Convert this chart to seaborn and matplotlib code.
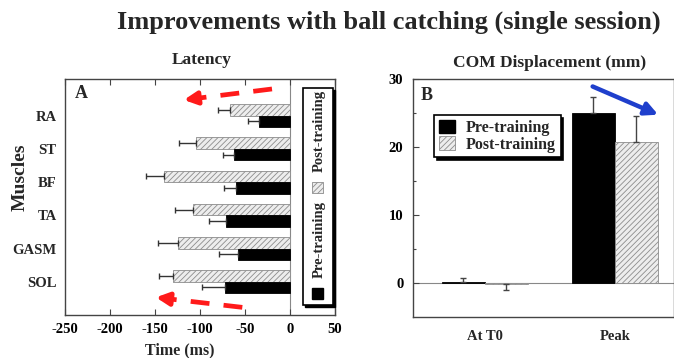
import numpy as np
import pandas as pd
import matplotlib
matplotlib.use("Agg")
import matplotlib.pyplot as plt
from matplotlib.patches import Rectangle, Patch
import seaborn as sns

# ---------------- data ----------------
muscles = ["RA", "ST", "BF", "TA", "GASM", "SOL"]
latency_post = [-67, -105, -140, -108, -124, -130]
latency_post_err = [13, 18, 20, 20, 23, 16]
latency_pre = [-35, -62, -60, -71, -58, -72]
latency_pre_err = [12, 12, 13, 19, 21, 26]

phases = ["At T0", "Peak"]
com_pre = [0.1, 25.0]
com_pre_err = [0.7, 2.4]
com_post = [-0.15, 20.7]
com_post_err = [0.9, 3.9]

conditions = ["Pre-training", "Post-training"]
title_main = "Improvements with ball catching (single session)"

# ---------------- style ----------------
sns.set_style("ticks")
plt.rcParams["font.family"] = ["Liberation Serif", "DejaVu Serif"]
plt.rcParams["font.weight"] = "bold"
plt.rcParams["hatch.linewidth"] = 0.6
plt.rcParams["axes.edgecolor"] = "#444444"
plt.rcParams["axes.linewidth"] = 1.0
plt.rcParams["axes.unicode_minus"] = False

PRE_COLOR = "black"
POST_FACE = "#ededed"
POST_EDGE = "#8c8c8c"
HATCH = "//////"
RED = "#ff1a1a"
BLUE = "#1f3fcc"

fig = plt.figure(figsize=(6.74, 3.58), dpi=100)
axA = fig.add_axes([65 / 674, 1 - 315 / 358, 270 / 674, 236 / 358])
axB = fig.add_axes([413 / 674, 1 - 317 / 358, 261 / 674, 238 / 358])


def style_post(patch):
    patch.set_facecolor(POST_FACE)
    patch.set_edgecolor(POST_EDGE)
    patch.set_hatch(HATCH)
    patch.set_linewidth(0.6)


def style_pre(patch):
    patch.set_facecolor(PRE_COLOR)
    patch.set_edgecolor(PRE_COLOR)
    patch.set_linewidth(0.6)


# ---------------- panel A ----------------
dfA = pd.DataFrame({
    "muscle": muscles * 2,
    "latency": latency_post + latency_pre,
    "err": latency_post_err + latency_pre_err,
    "condition": ["Post-training"] * len(muscles) + ["Pre-training"] * len(muscles),
})
sns.barplot(data=dfA, y="muscle", x="latency", hue="condition",
            order=muscles, hue_order=["Post-training", "Pre-training"],
            orient="h", width=0.69, errorbar=None, legend=False,
            palette={"Post-training": POST_FACE, "Pre-training": PRE_COLOR},
            ax=axA)
for cont, errs, styler in zip(axA.containers[:2],
                              [latency_post_err, latency_pre_err],
                              [style_post, style_pre]):
    for bar, e in zip(cont.patches, errs):
        styler(bar)
        xv = bar.get_x() + bar.get_width()
        yc = bar.get_y() + bar.get_height() / 2
        axA.errorbar([xv], [yc], xerr=[[e], [0]], fmt="none",
                     ecolor="#333333", elinewidth=1.0, capsize=2.5,
                     capthick=1.0, zorder=1)

axA.axvline(0, color="#888888", lw=0.8, zorder=0)
axA.set_xlim(-250, 50)
axA.set_ylim(6.0, -1.1)
axA.set_xticks(np.arange(-250, 51, 50))
axA.tick_params(axis="x", direction="in", top=True, length=4, width=0.8,
                labelsize=10.5, pad=6, colors="#444444", labelcolor="black")
axA.tick_params(axis="y", length=0, labelsize=10.5, pad=6)
for lab in axA.get_xticklabels() + axA.get_yticklabels():
    lab.set_fontweight("bold")
axA.set_xlabel("Time (ms)", fontsize=11.5, fontweight="bold")
axA.xaxis.set_label_coords(0.426, -0.118)
axA.set_ylabel("Muscles", fontsize=14, fontweight="bold")
axA.yaxis.set_label_coords(-0.135, 0.585)
axA.text(0.035, 0.94, "A", transform=axA.transAxes, fontsize=13,
         fontweight="bold", va="center", ha="left")

# rotated legend for A (drawn manually)
lx0, ly0, lw_, lh_ = 0.881, 0.042, 0.111, 0.92
dx, dy = 0.009, -0.010
axA.add_patch(Rectangle((lx0 + dx, ly0 + dy), lw_, lh_, transform=axA.transAxes,
                        facecolor="black", edgecolor="black", zorder=5,
                        clip_on=False))
axA.add_patch(Rectangle((lx0, ly0), lw_, lh_, transform=axA.transAxes,
                        facecolor="white", edgecolor="black", lw=1.2, zorder=6,
                        clip_on=False))
sq_w, sq_h = 0.040, 0.046
cx = lx0 + lw_ / 2
axA.add_patch(Rectangle((cx - sq_w / 2, 0.092 - sq_h / 2), sq_w, sq_h,
                        transform=axA.transAxes, facecolor=PRE_COLOR,
                        edgecolor=PRE_COLOR, zorder=7))
axA.add_patch(Rectangle((cx - sq_w / 2, 0.540 - sq_h / 2), sq_w, sq_h,
                        transform=axA.transAxes, facecolor=POST_FACE,
                        edgecolor=POST_EDGE, hatch=HATCH, lw=0.6, zorder=7))
axA.text(cx + 0.006, 0.318, conditions[0], transform=axA.transAxes, rotation=90,
         ha="center", va="center", fontsize=10.5, fontweight="bold", zorder=8)
axA.text(cx + 0.006, 0.78, conditions[1], transform=axA.transAxes, rotation=90,
         ha="center", va="center", fontsize=10.5, fontweight="bold", zorder=8)

# red dashed arrows (annotations)
arrow_top = ((-20, -0.80), (-118, -0.47))
arrow_bot = ((-53, 5.77), (-149, 5.47))
for (tail, tip) in (arrow_top, arrow_bot):
    t = np.array(tail, float)
    p = np.array(tip, float)
    mid = p + (t - p) * 0.18
    axA.plot([t[0], mid[0]], [t[1], mid[1]], color=RED, lw=3.4,
             linestyle=(0, (4, 3)), solid_capstyle="butt", zorder=4)
    axA.annotate("", xy=tuple(p), xytext=tuple(mid),
                 arrowprops=dict(arrowstyle="-|>", color=RED, lw=3.4,
                                 mutation_scale=19, shrinkA=0, shrinkB=0),
                 zorder=4)

# ---------------- panel B ----------------
dfB = pd.DataFrame({
    "phase": phases * 2,
    "disp": com_pre + com_post,
    "err": com_pre_err + com_post_err,
    "condition": ["Pre-training"] * len(phases) + ["Post-training"] * len(phases),
})
sns.barplot(data=dfB, x="phase", y="disp", hue="condition",
            order=phases, hue_order=["Pre-training", "Post-training"],
            width=0.66, errorbar=None, legend=False,
            palette={"Post-training": POST_FACE, "Pre-training": PRE_COLOR},
            ax=axB)
for cont, errs, styler in zip(axB.containers[:2],
                              [com_pre_err, com_post_err],
                              [style_pre, style_post]):
    for bar, e in zip(cont.patches, errs):
        styler(bar)
        val = bar.get_y() + bar.get_height()
        xc = bar.get_x() + bar.get_width() / 2
        yerr = [[0], [e]] if val >= 0 else [[e], [0]]
        axB.errorbar([xc], [val], yerr=yerr, fmt="none", ecolor="#444444",
                     elinewidth=1.0, capsize=2.5, capthick=1.0, zorder=3)

axB.axhline(0, color="#888888", lw=0.8, zorder=0)
axB.set_ylim(-5, 30)
axB.set_xlim(-0.55, 1.455)
axB.set_yticks([0, 10, 20, 30])
axB.set_yticks([5, 15, 25], minor=True)
axB.tick_params(axis="y", which="major", direction="in", length=4, width=0.8,
                labelsize=10.5, pad=7, colors="#444444", labelcolor="black")
axB.tick_params(axis="y", which="minor", direction="in", length=2.5, width=0.8,
                colors="#444444")
axB.tick_params(axis="x", length=0, labelsize=10.5, pad=9)
for lab in axB.get_xticklabels() + axB.get_yticklabels():
    lab.set_fontweight("bold")
axB.set_xlabel("")
axB.set_ylabel("")
axB.text(0.03, 0.93, "B", transform=axB.transAxes, fontsize=13,
         fontweight="bold", va="center", ha="left")

handles = [Patch(facecolor=PRE_COLOR, edgecolor=PRE_COLOR),
           Patch(facecolor=POST_FACE, edgecolor=POST_EDGE, hatch=HATCH, lw=0.6)]
leg = axB.legend(handles, conditions, loc="upper left",
                 bbox_to_anchor=(0.062, 0.87), frameon=True, fancybox=False,
                 shadow={"color": "black", "alpha": 1.0}, framealpha=1,
                 edgecolor="black", handlelength=1.0, handleheight=0.9,
                 handletextpad=0.7, borderpad=0.3, labelspacing=0.05,
                 borderaxespad=0.3,
                 prop={"family": "Liberation Serif", "weight": "bold", "size": 11.5})
leg.get_frame().set_linewidth(1.2)

# blue arrow (annotation)
axB.annotate("", xy=(1.333, 24.75), xytext=(0.83, 28.9),
             arrowprops=dict(arrowstyle="-|>", color=BLUE, lw=3.2,
                             mutation_scale=19, shrinkA=0, shrinkB=0))

# ---------------- titles ----------------
fig.text(389 / 674, 1 - 22 / 358, title_main, ha="center", va="center",
         fontsize=19, fontweight="bold")
fig.text(202 / 674, 1 - 60 / 358, "Latency", ha="center", va="center",
         fontsize=12.5, fontweight="bold")
fig.text(550 / 674, 1 - 63 / 358, "COM Displacement (mm)", ha="center",
         va="center", fontsize=12.5, fontweight="bold")

fig.savefig("out.png", dpi=100)
